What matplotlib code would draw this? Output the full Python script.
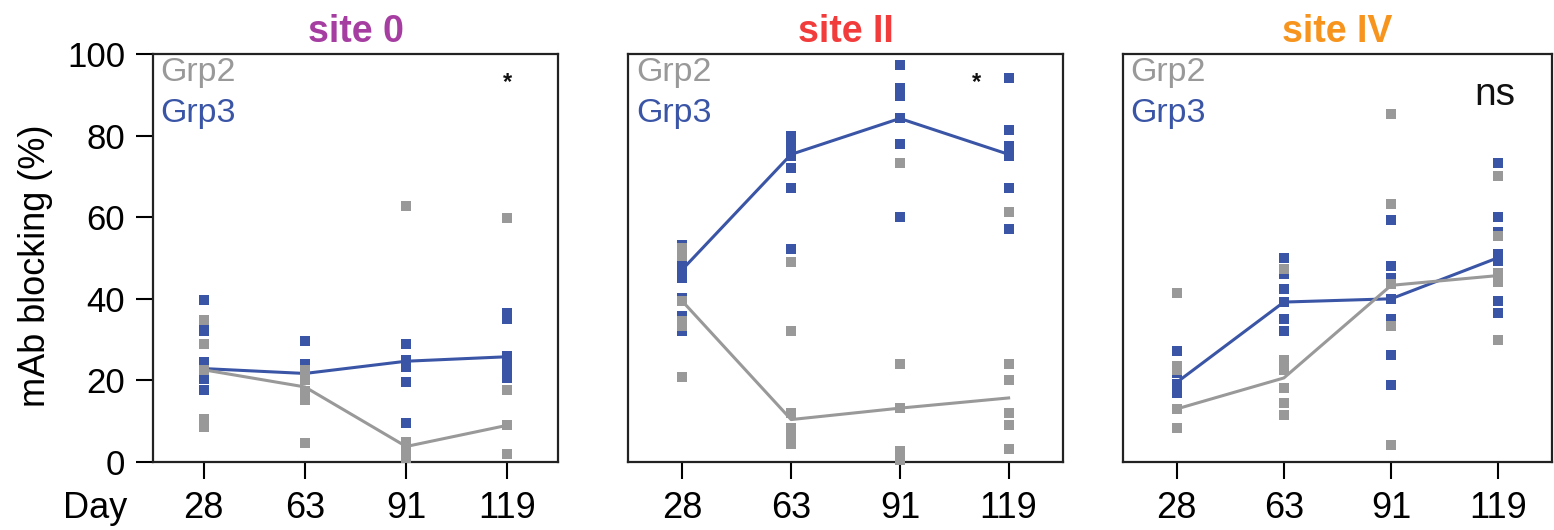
import matplotlib
matplotlib.use("Agg")
import matplotlib.pyplot as plt

plt.rcParams['font.family'] = ['Liberation Sans', 'DejaVu Sans']

days = ["28", "63", "91", "119"]
sites = ["site 0", "site II", "site IV"]
title_colors = ["#A63EA2", "#F23C3C", "#F7941D"]

# individual points (Grp2 = gray, Grp3 = blue), per day
s0_grp2 = [[34.7, 28.8, 22.5, 10.5, 8.5],
           [22.5, 20.0, 17.5, 15.3, 4.7],
           [62.8, 5.0, 3.0, 1.0],
           [59.9, 17.6, 9.0, 2.0]]
s0_grp3 = [[39.7, 33.5, 32.0, 24.5, 23.0, 20.4, 17.6],
           [29.6, 24.1, 21.7],
           [28.9, 24.9, 23.3, 19.6, 9.6],
           [36.4, 35.0, 26.0, 24.0, 22.0, 20.5]]
s0_line2 = [22.6, 18.4, 3.8, 9.0]
s0_line3 = [22.9, 21.7, 24.7, 25.8]

s2_grp2 = [[52.5, 50.5, 39.4, 34.5, 33.3, 20.8],
           [49.0, 32.0, 12.0, 8.3, 6.5, 4.3],
           [73.2, 24.1, 13.2, 2.6, 0.6],
           [61.2, 24.1, 20.2, 12.0, 9.0, 3.2]]
s2_grp3 = [[53.3, 48.0, 46.0, 45.0, 40.2, 35.7, 32.0],
           [80.0, 77.5, 75.0, 72.1, 67.2, 52.1],
           [97.3, 91.7, 89.8, 84.2, 78.0, 60.0],
           [94.0, 81.4, 77.5, 75.0, 67.2, 57.2]]
s2_line2 = [39.4, 10.4, 13.2, 15.7]
s2_line3 = [47.2, 75.4, 84.2, 75.4]

s4_grp2 = [[41.3, 23.5, 22.5, 12.9, 8.4],
           [47.2, 25.0, 22.5, 18.2, 14.5, 11.4],
           [85.2, 63.3, 43.6, 33.4, 4.1],
           [70.1, 55.4, 46.4, 44.0, 30.0]]
s4_grp3 = [[27.2, 21.9, 19.0, 17.0],
           [50.1, 46.0, 42.5, 39.2, 35.0, 32.1],
           [59.2, 48.0, 45.1, 40.0, 35.0, 26.2, 18.9],
           [73.3, 60.1, 56.4, 50.9, 49.3, 39.4, 36.6]]
s4_line2 = [13.0, 20.6, 43.3, 45.7]
s4_line3 = [19.5, 39.2, 40.0, 50.1]

# significance marks: (x position in category units, y, text)
sig_marks = [(3.0, 93, "*"), (2.7, 93, "*"), (2.97, 90, "ns")]

grp2_data = [s0_grp2, s2_grp2, s4_grp2]
grp3_data = [s0_grp3, s2_grp3, s4_grp3]
line2_data = [s0_line2, s2_line2, s4_line2]
line3_data = [s0_line3, s2_line3, s4_line3]

GRAY = "#999999"
BLUE = "#3A55A6"

W, H = 1554, 530
fig = plt.figure(figsize=(W / 100, H / 100), dpi=100)

panels_px = [(153, 558), (628, 1063), (1123, 1552)]
top_px, bot_px = 54, 462

for i, (l, r) in enumerate(panels_px):
    ax = fig.add_axes([l / W, (H - bot_px) / H, (r - l) / W, (bot_px - top_px) / H])
    xs = list(range(len(days)))
    # lines
    ax.plot(xs, line3_data[i], color=BLUE, lw=2.2, zorder=2)
    ax.plot(xs, line2_data[i], color=GRAY, lw=2.2, zorder=2)
    for j in xs:
        ax.plot([j] * len(grp3_data[i][j]), grp3_data[i][j], 's', color=BLUE,
                ms=6.6, mew=0, zorder=3, clip_on=False)
        ax.plot([j] * len(grp2_data[i][j]), grp2_data[i][j], 's', color=GRAY,
                ms=6.6, mew=0, zorder=3, clip_on=False)
    ax.set_xlim(-0.5, 3.5)
    ax.set_ylim(0, 100)
    ax.set_xticks(xs)
    ax.set_xticklabels(days)
    ax.tick_params(axis='x', direction='out', length=12, width=1.5, labelsize=26, pad=9)
    if i == 0:
        ax.set_yticks([0, 20, 40, 60, 80, 100])
        ax.tick_params(axis='y', direction='out', length=12, width=1.5, labelsize=25, pad=8)
        ax.set_ylabel("mAb blocking (%)", fontsize=26)
        ax.yaxis.set_label_coords((53 - l) / (r - l), 0.48)
    else:
        ax.set_yticks([])
    for sp in ax.spines.values():
        sp.set_linewidth(1.6)
        sp.set_color("#222222")
    ax.set_title(sites[i], color=title_colors[i], fontsize=27, fontweight='bold', pad=9)
    ax.text(0.018, 0.955, "Grp2", color=GRAY, fontsize=24.5, transform=ax.transAxes,
            ha='left', va='center')
    ax.text(0.018, 0.855, "Grp3", color=BLUE, fontsize=24.5, transform=ax.transAxes,
            ha='left', va='center')
    sx, sy, st = sig_marks[i]
    if st == "*":
        ax.text(sx, sy, st, fontsize=17, ha='center', va='center', color="#111111",
                fontweight='bold')
    else:
        ax.text(sx, sy, st, fontsize=28, ha='center', va='center', color="#111111")

fig.text(95 / W, 1 - 509 / H, "Day", fontsize=26, ha='center', va='center')

fig.savefig("out.png", dpi=100)
